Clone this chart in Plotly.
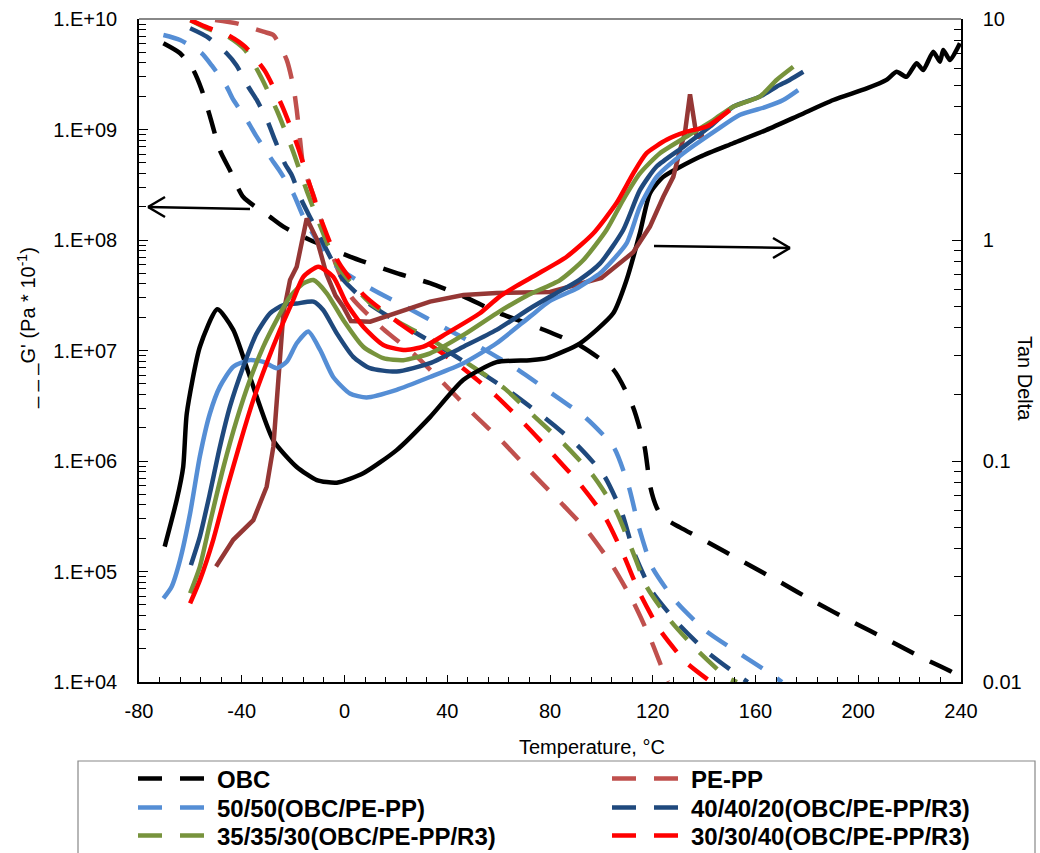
import plotly.graph_objects as go

# ---------------- data ----------------
# Temperature (°C) grids and values; G' in Pa*10^-1 (left axis), tan delta (right axis)

obc_g_T = [-70.5, -64, -58.9, -55.6, -52.4, -48.5, -44.6, -39.4, -29, -23.8, -13.4, 2.1, 20.3, 33.3,
           46.3, 60, 77.3, 92, 104.9, 112.3, 116.8, 119.1, 121.6, 124, 130.6, 141.1, 155.1, 169.5,
           183.5, 197.2, 211.6, 224.8, 236.5, 239.6]
obc_g = [6.03e9, 4.9e9, 3.47e9, 2.29e9, 1.32e9, 6.46e8, 4.27e8, 2.45e8, 1.62e8, 1.32e8, 1.0e8, 7.08e7,
         5.01e7, 4.07e7, 3.09e7, 2.19e7, 1.55e7, 1.10e7, 6.61e6, 3.09e6, 1.35e6, 5.75e5, 3.76e5, 3.09e5,
         2.51e5, 1.86e5, 1.23e5, 8.04e4, 5.25e4, 3.55e4, 2.4e4, 1.66e4, 1.23e4, 1.10e4]

obc_t_T = [-70, -65.3, -62.8, -61.4, -56.3, -49.5, -43.3, -36.8, -27.7, -18.6, -10.8, -3, 7.3, 20.3,
           33.3, 46.3, 59.2, 72.2, 78.7, 91.7, 104.6, 109.8, 115, 118.9, 124.1, 138.4, 151.3, 164.3,
           177.3, 190.3, 203.3, 211, 214.9, 218.8, 222.7, 225.3, 229.2, 231.8, 233.1, 235.7, 239.6]
obc_t = [0.041, 0.0667, 0.094, 0.164, 0.329, 0.486, 0.392, 0.24, 0.124, 0.094, 0.082, 0.0798, 0.088,
         0.112, 0.158, 0.233, 0.28, 0.286, 0.292, 0.341, 0.466, 0.659, 1.077, 1.625, 1.93, 2.38, 2.74,
         3.15, 3.68, 4.30, 4.85, 5.30, 5.77, 5.48, 6.31, 5.88, 7.11, 6.41, 7.24, 6.52, 7.76]

pepp_g_T = [-50.4, -42, -31.6, -27.7, -22.5, -19.9, -18.6, -17.3, -16, -12, -7, -2, 2.9, 15, 27.4,
            38.3, 50, 61.3, 72.2, 83.9, 94.8, 104.1, 112.3, 119.3, 124.7, 125.9]
pepp_g = [9.77e9, 9.12e9, 7.67e9, 7.16e9, 4.27e9, 2.45e9, 1.51e9, 8.04e8, 4.57e8, 2.51e8, 1.05e8,
          5.01e7, 2.99e7, 1.57e7, 9.12e6, 5.13e6, 2.69e6, 1.51e6, 8.13e5, 4.27e5, 2.29e5, 1.15e5,
          5.37e4, 2.4e4, 1.15e4, 1.0e4]

pepp_t_T = [-50, -43.3, -35.5, -30.3, -27.7, -25.8, -23.8, -21.2, -18.6, -14.7, -10.8, -7, -3.5,
            -0.5, 2.5, 10, 20.3, 33.3, 46.3, 59.2, 80, 100, 112.4, 118.9, 124.1, 128, 130.6, 132.5,
            134.5, 137.1, 140]
pepp_t = [0.0333, 0.044, 0.054, 0.0765, 0.116, 0.233, 0.466, 0.659, 0.757, 1.25, 1.01, 0.70, 0.56,
          0.499, 0.43, 0.427, 0.466, 0.526, 0.564, 0.576, 0.582, 0.673, 0.88, 1.15, 1.57, 1.93, 2.55,
          3.04, 4.56, 2.93, 2.95]

b50_g_T = [-70.5, -64, -55.6, -51.7, -45.9, -43.3, -38.1, -34.2, -29, -25.1, -19.9, -16, -10.8, -3,
           11.1, 24.7, 39.5, 53.5, 67.9, 80.8, 94, 104.9, 110.7, 114.6, 119.7, 128.6, 140.3, 153.6,
           166.8, 170.3]
b50_g = [7.16e9, 6.46e9, 4.9e9, 3.8e9, 2.45e9, 1.86e9, 1.23e9, 8.61e8, 5.62e8, 4.17e8, 2.63e8, 1.62e8,
         1.0e8, 5.75e7, 3.55e7, 2.43e7, 1.58e7, 1.05e7, 6.61e6, 4.07e6, 2.45e6, 1.32e6, 5.82e5, 2.51e5,
         1.10e5, 5.5e4, 2.95e4, 1.82e4, 1.15e4, 1.0e4]

b50_t_T = [-70.5, -67.3, -64, -60.1, -56.3, -52.4, -48.5, -43.3, -36.8, -31.6, -26.4, -22.5, -18.6,
           -14.1, -9.5, -4.4, 2.1, 8.6, 20.3, 33.3, 46.3, 59.2, 72.2, 80, 90, 95.6, 99.5, 109.8, 115,
           121.5, 131.9, 144.9, 153.8, 164.3, 170.8, 176.6]
b50_t = [0.0239, 0.027, 0.0357, 0.058, 0.105, 0.164, 0.217, 0.267, 0.286, 0.281, 0.263, 0.281, 0.341,
         0.385, 0.318, 0.24, 0.202, 0.194, 0.21, 0.24, 0.277, 0.341, 0.45, 0.53, 0.6, 0.659, 0.707,
         0.966, 1.415, 1.93, 2.47, 3.15, 3.68, 4.01, 4.30, 4.77]

b40_g_T = [-60.1, -53.6, -45.9, -42, -37.5, -34.2, -29.7, -27.1, -23.2, -20.6, -16.7, -12.8, -7, -0.5,
           9.1, 25.5, 41.1, 65.2, 78, 90.5, 101, 108, 112.7, 119.7, 129.4, 140.7, 153.9, 157]
b40_g = [8.24e9, 6.92e9, 4.9e9, 3.8e9, 2.45e9, 1.86e9, 1.15e9, 8.04e8, 4.9e8, 3.89e8, 2.29e8, 1.51e8,
         8.13e7, 4.37e7, 2.69e7, 1.55e7, 9.55e6, 4.12e6, 2.45e6, 1.4e6, 7.41e5, 3.39e5, 1.48e5, 6.61e4,
         3.47e4, 1.91e4, 1.12e4, 1.0e4]

b40_t_T = [-59.8, -56.3, -52.4, -48.5, -44.6, -39.4, -34.2, -29, -23.8, -18.6, -12.1, -8.3, -3, 3.4,
           9.9, 20.3, 33.3, 46.3, 59.2, 72.2, 81.2, 91.3, 99.5, 108.5, 115, 121.5, 131.9, 142.3, 151.3,
           161.6, 168.2, 173.3, 178.6]
b40_t = [0.0338, 0.0455, 0.0714, 0.116, 0.176, 0.267, 0.378, 0.466, 0.508, 0.516, 0.526, 0.482, 0.378,
         0.296, 0.263, 0.254, 0.277, 0.329, 0.392, 0.49, 0.564, 0.659, 0.784, 1.11, 1.68, 2.15, 2.64,
         3.26, 4.01, 4.45, 4.94, 5.30, 5.77]

g35_g_T = [-60, -53, -45.7, -38.7, -32.5, -25.9, -20, -14.6, -8.8, -2.9, 3, 9.5, 21.6, 34.4, 48.8,
           62.1, 74.1, 85.8, 96.7, 105.7, 111.9, 117.7, 126.7, 137.2, 148.9, 152.8]
g35_g = [9.77e9, 8.13e9, 7.02e9, 5.25e9, 2.99e9, 1.41e9, 6.31e8, 2.75e8, 1.23e8, 5.89e7, 3.98e7,
         2.75e7, 1.78e7, 1.23e7, 7.41e6, 4.57e6, 2.51e6, 1.4e6, 7.41e5, 3.55e5, 1.58e5, 7.24e4, 3.63e4,
         1.95e4, 1.10e4, 1.0e4]

g35_t_T = [-60.1, -56.3, -52.4, -47.1, -42, -36.8, -31.6, -26.4, -21.2, -16, -12.1, -6.9, -0.5, 7.3,
           15.1, 22.9, 33.3, 46.3, 59.2, 71, 83.9, 93, 102, 108.5, 115, 122.8, 133.2, 143.6, 151.3,
           161.6, 168.2, 174.7]
g35_t = [0.0252, 0.0333, 0.0523, 0.094, 0.153, 0.233, 0.329, 0.435, 0.554, 0.637, 0.659, 0.574, 0.435,
         0.329, 0.292, 0.286, 0.307, 0.372, 0.466, 0.56, 0.659, 0.812, 1.11, 1.52, 2.0, 2.47, 2.94,
         3.49, 4.01, 4.45, 5.30, 6.08]

r30_g_T = [-60, -53, -45.4, -38.7, -31, -24, -18.1, -13.4, -8.4, -2.1, 7.6, 20, 31.7, 45, 59, 70.3,
           81.2, 92, 101.8, 108.8, 115, 122.8, 132.9, 142.7]
r30_g = [9.77e9, 8.32e9, 7.16e9, 5.62e9, 3.39e9, 1.58e9, 6.92e8, 3.09e8, 1.38e8, 6.17e7, 3.16e7,
         1.86e7, 1.20e7, 7.24e6, 3.89e6, 2.14e6, 1.15e6, 6.03e5, 2.99e5, 1.38e5, 6.31e4, 2.95e4,
         1.51e4, 1.0e4]

r30_t_T = [-60.1, -56.3, -51.1, -45.9, -40.7, -35.5, -30.3, -25.1, -20, -16, -10.2, -4.4, 0.8, 7.3,
           15.1, 22.9, 30.7, 39.8, 52.7, 60, 67, 75, 86.5, 96.8, 105.9, 112.4, 117.6, 125.4, 133.2,
           141, 150]
r30_t = [0.0227, 0.0289, 0.044, 0.074, 0.12, 0.189, 0.277, 0.392, 0.535, 0.682, 0.757, 0.682, 0.516,
         0.405, 0.335, 0.318, 0.329, 0.378, 0.466, 0.55, 0.62, 0.70, 0.84, 1.07, 1.47, 2.0, 2.47, 2.84,
         3.09, 3.26, 3.87]

series_names = ["OBC", "PE-PP", "50/50(OBC/PE-PP)", "40/40/20(OBC/PE-PP/R3)",
                "35/35/30(OBC/PE-PP/R3)", "30/30/40(OBC/PE-PP/R3)"]
dash_colors = ["#000000", "#C0504D", "#558ED5", "#1F497D", "#77933C", "#FF0000"]
solid_colors = ["#000000", "#953735", "#558ED5", "#1F497D", "#77933C", "#FF0000"]

x_ticks = [-80, -40, 0, 40, 80, 120, 160, 200, 240]
x_ticktext = ["-80", "-40", "0", "40", "80", "120", "160", "200", "240"]
g_ticks = [1e4, 1e5, 1e6, 1e7, 1e8, 1e9, 1e10]
g_ticktext = ["1.E+04", "1.E+05", "1.E+06", "1.E+07", "1.E+08", "1.E+09", "1.E+10"]
td_ticks = [0.01, 0.1, 1, 10]
td_ticktext = ["0.01", "0.1", "1", "10"]

g_sets = [(obc_g_T, obc_g), (pepp_g_T, pepp_g), (b50_g_T, b50_g), (b40_g_T, b40_g),
          (g35_g_T, g35_g), (r30_g_T, r30_g)]
t_sets = [(obc_t_T, obc_t), (pepp_t_T, pepp_t), (b50_t_T, b50_t), (b40_t_T, b40_t),
          (g35_t_T, g35_t), (r30_t_T, r30_t)]

# ---------------- figure ----------------
W, H = 1040, 853
ML, MR, MT, MB = 139, 79, 19, 171
PW, PH = W - ML - MR, H - MT - MB


def px(x):
    return (x - ML) / PW


def py(y):
    return (H - MB - y) / PH


fig = go.Figure()
LW = 4.5
DASH = "24px,18px"
legend_ids = ["legend", "legend2", "legend3", "legend4", "legend5", "legend6"]
# legend grid: two columns (left edge x px), three rows (center y px)
leg_col_x = [133, 607]
leg_row_y = [779, 808, 836]

for i, name in enumerate(series_names):
    gT, gv = g_sets[i]
    fig.add_trace(go.Scatter(x=gT, y=gv, mode="lines", name=name, yaxis="y",
                             line=dict(color=dash_colors[i], width=LW, dash=DASH,
                                       shape="spline", smoothing=0.6),
                             showlegend=True, legend=legend_ids[i]))
for i, name in enumerate(series_names):
    tT, tv = t_sets[i]
    shape = "linear" if name == "PE-PP" else "spline"
    fig.add_trace(go.Scatter(x=tT, y=tv, mode="lines", name=name + " tan", yaxis="y2",
                             line=dict(color=solid_colors[i], width=LW, shape=shape, smoothing=0.6),
                             showlegend=False))

tickfont = dict(family="Liberation Sans, Arial", size=20, color="black")
minor_g = [m * 10 ** k for k in range(4, 10) for m in range(2, 10)]
minor_t = [m * 10.0 ** k for k in range(-2, 1) for m in range(2, 10)]

legend_font = dict(family="Liberation Sans, Arial", size=24, color="black", weight="bold")
legends = {}
for i, lid in enumerate(legend_ids):
    legends[lid] = dict(x=px(leg_col_x[i % 2]), y=py(leg_row_y[i // 2]), xanchor="left",
                        yanchor="middle", itemwidth=74, font=legend_font,
                        bgcolor="rgba(0,0,0,0)", borderwidth=0)

fig.update_layout(
    width=W, height=H,
    margin=dict(l=ML, r=MR, t=MT, b=MB, pad=0, autoexpand=False),
    paper_bgcolor="white", plot_bgcolor="white",
    xaxis=dict(range=[-80, 240], tickvals=x_ticks, ticktext=x_ticktext, ticks="inside",
               ticklen=7, tickwidth=1.3, tickcolor="black", showline=True, linecolor="black",
               linewidth=1.5, showgrid=False, zeroline=False, tickfont=tickfont,
               ticklabelstandoff=10,
               minor=dict(dtick=8, tick0=-80, ticks="inside", ticklen=5, tickwidth=1.1,
                          tickcolor="black", showgrid=False)),
    yaxis=dict(type="log", range=[4, 10], tickvals=g_ticks, ticktext=g_ticktext, ticks="inside",
               ticklen=9, tickwidth=1.3, tickcolor="black", showline=True, linecolor="black",
               linewidth=1.5, showgrid=False, zeroline=False, tickfont=tickfont,
               ticklabelstandoff=16,
               minor=dict(tickvals=minor_g, ticks="inside", ticklen=7, tickwidth=1.1,
                          tickcolor="black", showgrid=False)),
    yaxis2=dict(type="log", range=[-2, 1], overlaying="y", side="right", anchor="x",
                tickvals=td_ticks, ticktext=td_ticktext, ticks="inside", ticklen=9,
                tickwidth=1.3, tickcolor="black", showline=True, linecolor="black",
                linewidth=1.5, showgrid=False, zeroline=False, tickfont=tickfont,
                ticklabelstandoff=16,
                minor=dict(tickvals=minor_t, ticks="inside", ticklen=7, tickwidth=1.1,
                           tickcolor="black", showgrid=False)),
    showlegend=True,
    **legends,
)

# top frame line (gray)
fig.add_shape(type="line", xref="paper", yref="paper", x0=0, x1=1, y0=1, y1=1,
              line=dict(color="#888888", width=2))
# legend frame
fig.add_shape(type="rect", xref="paper", yref="paper", x0=px(78), x1=px(1035), y0=py(761),
              y1=py(900), line=dict(color="#888888", width=1.2), fillcolor="rgba(0,0,0,0)")

# arrows (paper coordinates)
arrow_left = dict(head=(148, 207), tail=(250, 209))
arrow_right = dict(tail=(654, 246), head=(790, 248))
for a, sgn in ((arrow_left, 1), (arrow_right, -1)):
    hx, hy = a["head"]
    tx, ty = a["tail"]
    fig.add_shape(type="line", xref="paper", yref="paper", x0=px(tx), y0=py(ty), x1=px(hx),
                  y1=py(hy), line=dict(color="black", width=2.5))
    for d in (-10, 10):
        fig.add_shape(type="line", xref="paper", yref="paper", x0=px(hx), y0=py(hy),
                      x1=px(hx + sgn * 17), y1=py(hy + d), line=dict(color="black", width=2.5))

titlefont = dict(family="Liberation Sans, Arial", size=20, color="black")
fig.add_annotation(text="Temperature, °C", xref="paper", yref="paper", x=px(592), y=py(747),
                   xanchor="center", yanchor="middle", showarrow=False, font=titlefont)
fig.add_annotation(text="_ _ _G' (Pa * 10<sup>-1</sup>)", xref="paper", yref="paper", x=px(27),
                   y=py(328), xanchor="center", yanchor="middle", showarrow=False,
                   textangle=-90, font=titlefont)
fig.add_annotation(text="Tan Delta", xref="paper", yref="paper", x=px(1025), y=py(378),
                   xanchor="center", yanchor="middle", showarrow=False, textangle=90,
                   font=titlefont)

fig.write_html("out.html")
